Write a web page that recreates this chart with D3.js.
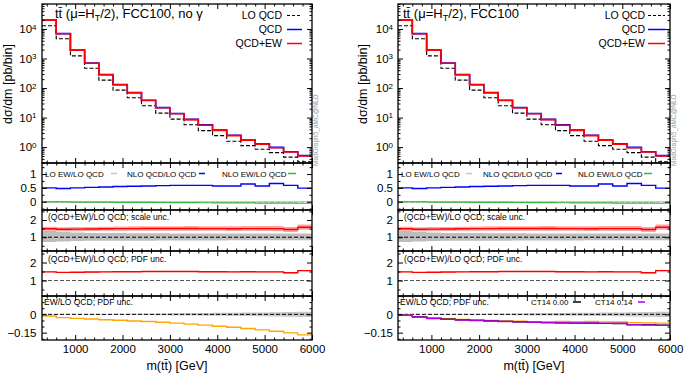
<!DOCTYPE html>
<html><head><meta charset="utf-8">
<script src="https://cdn.jsdelivr.net/npm/d3@7"></script>
<style>
body{margin:0;background:#fff}
text{font-family:"Liberation Sans",Arial,Helvetica,sans-serif}
</style>
</head><body>
<svg id="chart" width="685" height="374"></svg>
<script>
// bin edges in m(tt) [GeV]
var massEdges=[300,600,900,1200,1500,1800,2100,2400,2700,3000,3300,3600,3900,4200,4500,4800,5100,5400,5700,6000];

// main panel, pb/bin
var sigmaLO=[12900,4680,1230,468,186,85,46.8,25.1,14.1,8.9,5.75,3.63,2.45,1.58,1.12,0.85,0.65,0.46,0.32];
var sigmaQCD=[20050,6950,1915,698,285,130.5,70,38.6,21.8,13.8,8.7,5.65,3.8,2.52,1.75,1.30,0.98,0.70,0.515];
var sigmaQCDEW=[19950,6920,1905,692,282,129,69,38,21.4,13.5,8.5,5.5,3.7,2.45,1.7,1.26,0.95,0.68,0.50];

// ratio panel
var kLOEW=[0.003,0.003,0.004,0.004,0.004,0.005,0.005,0.005,0.005,0.006,0.006,0.006,0.006,0.006,0.007,0.007,0.007,0.007,0.007];
var kQCD=[0.50,0.48,0.50,0.52,0.53,0.55,0.56,0.57,0.58,0.59,0.59,0.59,0.57,0.57,0.64,0.57,0.66,0.59,0.49];
var kEW=[-0.004,-0.008,-0.012,-0.015,-0.018,-0.021,-0.024,-0.027,-0.029,-0.032,-0.035,-0.037,-0.040,-0.043,-0.045,-0.048,-0.051,-0.053,-0.056];

// scale unc panel
var scaleC=[1.49,1.46,1.47,1.48,1.49,1.50,1.50,1.51,1.51,1.51,1.51,1.50,1.50,1.49,1.50,1.50,1.50,1.45,1.58];
var scaleLo=[1.37,1.34,1.35,1.36,1.37,1.38,1.38,1.38,1.38,1.38,1.38,1.37,1.37,1.36,1.37,1.36,1.36,1.31,1.43];
var scaleHi=[1.61,1.58,1.59,1.60,1.61,1.62,1.63,1.64,1.64,1.64,1.65,1.64,1.64,1.63,1.65,1.65,1.65,1.60,1.74];
var loScaleLo=[0.72,0.75,0.78,0.79,0.80,0.80,0.80,0.80,0.81,0.81,0.81,0.81,0.81,0.82,0.82,0.82,0.82,0.82,0.82];
var loScaleHi=[1.36,1.32,1.27,1.25,1.24,1.24,1.23,1.23,1.23,1.22,1.22,1.22,1.22,1.22,1.21,1.21,1.21,1.21,1.21];

// pdf unc panel
var pdfC=[1.48,1.45,1.46,1.47,1.48,1.49,1.49,1.50,1.50,1.50,1.50,1.49,1.49,1.48,1.49,1.48,1.48,1.43,1.55];
var pdfLo=[1.46,1.43,1.44,1.45,1.46,1.47,1.47,1.48,1.48,1.47,1.47,1.46,1.46,1.45,1.46,1.45,1.45,1.40,1.52];
var pdfHi=[1.50,1.47,1.48,1.49,1.50,1.51,1.51,1.52,1.52,1.53,1.53,1.52,1.52,1.51,1.52,1.51,1.51,1.46,1.58];

// EW/LO QCD panel
var ewLO_noA=[-0.014,-0.027,-0.033,-0.038,-0.044,-0.049,-0.054,-0.059,-0.065,-0.072,-0.080,-0.088,-0.097,-0.106,-0.116,-0.127,-0.139,-0.152,-0.168];
var ewLO_A=[-0.008,-0.020,-0.030,-0.036,-0.041,-0.046,-0.050,-0.054,-0.057,-0.060,-0.062,-0.058,-0.060,-0.058,-0.062,-0.063,-0.068,-0.070,-0.072];
var ct14_000=[-0.008,-0.021,-0.033,-0.040,-0.045,-0.050,-0.054,-0.058,-0.062,-0.065,-0.068,-0.070,-0.073,-0.072,-0.075,-0.076,-0.085,-0.084,-0.088];
var ct14_014=[-0.008,-0.021,-0.034,-0.041,-0.046,-0.051,-0.055,-0.059,-0.062,-0.065,-0.067,-0.069,-0.070,-0.070,-0.072,-0.073,-0.085,-0.087,-0.090];
var pdfEwW=[0.002,0.002,0.002,0.003,0.003,0.003,0.004,0.005,0.007,0.009,0.010,0.011,0.012,0.013,0.014,0.016,0.018,0.020,0.022];

var svg=d3.select("#chart");
var P={main:[4,163],r1:[163,210],r2:[210,251],r3:[251,296],r4:[296,340]};

function pts(v){ return massEdges.map(function(m,i){ return [m, v[Math.min(i,v.length-1)]]; }); }
function bandPts(lo,hi){ return massEdges.map(function(m,i){ var j=Math.min(i,lo.length-1); return [m,lo[j],hi[j]]; }); }

var clipN=0;
function panel(side,key,yScale,draw){
  var y0=P[key][0], y1=P[key][1];
  var id="clip"+(clipN++);
  svg.append("clipPath").attr("id",id).append("rect")
    .attr("x",side.x0).attr("y",y0).attr("width",side.x1-side.x0).attr("height",y1-y0);
  var g=svg.append("g").attr("clip-path","url(#"+id+")");
  draw(g);
  // ticks
  var minX=[],majX=[1000,2000,3000,4000,5000,6000];
  for(var m=400;m<6000;m+=200){ if(m%1000) minX.push(m); }
  var len=side.x1-side.x0;
  [[d3.axisBottom,y1],[d3.axisTop,y0]].forEach(function(a){
    [[minX,2.5],[majX,5]].forEach(function(t){
      svg.append("g").attr("transform","translate(0,"+a[1]+")")
        .call(a[0](side.x).tickValues(t[0]).tickSize(-t[1]).tickFormat(""))
        .call(function(s){ s.select(".domain").remove(); s.selectAll("line").attr("stroke","#000"); });
    });
  });
  [[d3.axisLeft,side.x0],[d3.axisRight,side.x1]].forEach(function(a){
    [[yScale.minor,2.5],[yScale.major,5]].forEach(function(t){
      svg.append("g").attr("transform","translate("+a[1]+",0)")
        .call(a[0](yScale.s).tickValues(t[0]).tickSize(-t[1]).tickFormat(""))
        .call(function(s){ s.select(".domain").remove(); s.selectAll("line").attr("stroke","#000"); });
    });
  });
  // labels
  var lab=svg.append("g").attr("transform","translate("+side.x0+",0)")
    .call(d3.axisLeft(yScale.s).tickValues(yScale.labels).tickSize(0).tickPadding(side.pad).tickFormat(yScale.fmt||d3.format("~g")));
  lab.select(".domain").remove();
  lab.selectAll("text").attr("font-size","11.5px").attr("fill","#000").attr("font-family",null);
  if(yScale.log){
    lab.selectAll("text").each(function(d){
      var t=d3.select(this); t.text(null);
      t.append("tspan").text("10");
      t.append("tspan").attr("dy","-0.45em").attr("font-size","8px").text(Math.round(Math.log10(d)));
    });
  }
  svg.append("rect").attr("x",side.x0).attr("y",y0).attr("width",len).attr("height",y1-y0)
    .attr("fill","none").attr("stroke","#000").attr("stroke-width",1.3);
}

function stepLine(g,x,y,v,color,w,dash){
  var ln=d3.line().x(function(d){return x(d[0]);}).y(function(d){return y(d[1]);}).curve(d3.curveStepAfter);
  g.append("path").attr("d",ln(pts(v))).attr("fill","none").attr("stroke",color)
    .attr("stroke-width",w).attr("stroke-dasharray",dash||null);
}
function stepBand(g,x,y,lo,hi,color,op){
  var ar=d3.area().x(function(d){return x(d[0]);}).y0(function(d){return y(d[1]);}).y1(function(d){return y(d[2]);}).curve(d3.curveStepAfter);
  g.append("path").attr("d",ar(bandPts(lo,hi))).attr("fill",color).attr("opacity",op||1);
}
function hline(g,x,y,v,color){
  g.append("line").attr("x1",x(300)).attr("x2",x(6000)).attr("y1",y(v)).attr("y2",y(v))
    .attr("stroke",color).attr("stroke-width",1).attr("stroke-dasharray","4,2");
}
function txt(x,y,s,size,anchor){
  return svg.append("text").attr("x",x).attr("y",y).attr("font-size",size).attr("text-anchor",anchor||"start").text(s);
}
function sample(x1,x2,y,color,dash,w){
  svg.append("line").attr("x1",x1).attr("x2",x2).attr("y1",y).attr("y2",y)
    .attr("stroke",color).attr("stroke-width",w||1.5).attr("stroke-dasharray",dash||null);
}

function drawSide(side){
  var x=d3.scaleLinear().domain([300,6000]).range([side.x0,side.x1]);
  side.x=x;

  // main
  var ym=d3.scaleLog().domain([0.29,7e4]).range([P.main[1],P.main[0]]);
  var minors=[];
  [0.1,1,10,100,1000,10000].forEach(function(d){ for(var k=2;k<=9;k++){ var v=k*d; if(v>=0.29&&v<=7e4) minors.push(v);} });
  panel(side,"main",{s:ym,major:[1,10,100,1000,10000],minor:minors,labels:[1,10,100,1000,10000],log:true},function(g){
    stepLine(g,x,ym,sigmaLO,"#000",1.1,"4,2");
    stepLine(g,x,ym,sigmaQCD,"#0000ff",1.6);
    stepLine(g,x,ym,sigmaQCDEW,"#ff0000",1.6);
  });

  // ratio
  var y1=d3.scaleLinear().domain([-0.3,1.4]).range([P.r1[1],P.r1[0]]);
  panel(side,"r1",{s:y1,major:[0,0.5,1],minor:[-0.25,0.25,0.75,1.25],labels:[0,0.5,1]},function(g){
    hline(g,x,y1,0,"#000");
    stepLine(g,x,y1,kLOEW,"#c8c8c8",1.2);
    stepLine(g,x,y1,kEW,"#3cb43c",1.2);
    stepLine(g,x,y1,kQCD,"#0000ff",1.4);
  });

  // scale unc
  var y2=d3.scaleLinear().domain([0.2,2.58]).range([P.r2[1],P.r2[0]]);
  panel(side,"r2",{s:y2,major:[1,2],minor:[0.5,1.5,2.5],labels:[1,2]},function(g){
    stepBand(g,x,y2,loScaleLo,loScaleHi,"#bdbdbd");
    hline(g,x,y2,1,"#000");
    stepBand(g,x,y2,scaleLo,scaleHi,"#ffa4a4",1);
    stepLine(g,x,y2,scaleC,"#ff0000",1.4);
  });

  // pdf unc
  var y3=d3.scaleLinear().domain([0.14,2.64]).range([P.r3[1],P.r3[0]]);
  panel(side,"r3",{s:y3,major:[1,2],minor:[0.5,1.5,2.5],labels:[1,2]},function(g){
    hline(g,x,y3,1,"#555");
    stepBand(g,x,y3,pdfLo,pdfHi,"#ff9c9c",1);
    stepLine(g,x,y3,pdfC,"#ff0000",1.4);
  });

  // EW/LO QCD pdf unc
  var y4=d3.scaleLinear().domain([-0.21,0.15]).range([P.r4[1],P.r4[0]]);
  panel(side,"r4",{s:y4,major:[0,-0.15,0.15],minor:[-0.2,-0.1,-0.05,0.05,0.1],labels:[0,-0.15]},function(g){
    stepBand(g,x,y4,pdfEwW.map(function(w){return -w;}),pdfEwW,"#c8c8c8");
    hline(g,x,y4,0,"#000");
    stepLine(g,x,y4,side.ew,"#ffa500",1.4);
    if(side.ct14){
      stepLine(g,x,y4,ct14_000,"#000",1.2);
      stepLine(g,x,y4,ct14_014,"#b000e0",1.4);
    }
  });

  // x labels
  var xl=svg.append("g").attr("transform","translate(0,"+P.r4[1]+")")
    .call(d3.axisBottom(x).tickValues([1000,2000,3000,4000,5000,6000]).tickSize(0).tickFormat(d3.format("d")));
  xl.select(".domain").remove();
  xl.selectAll("text").attr("y",13).attr("dy",null).attr("font-size","11.5px").attr("fill","#000").attr("font-family",null);

  // axis titles
  txt((side.x0+side.x1)/2,370,"m(tt\u0304) [GeV]","12.5px","middle");
  svg.append("text").attr("transform","translate("+side.ytX+",84) rotate(-90)")
    .attr("text-anchor","middle").attr("font-size","12.5px").text("d\u03c3/dm [pb/bin]");

  // title
  var t=txt(side.titleX,18,"tt\u0304 (\u03bc=H","13px");
  t.append("tspan").attr("dy",2.5).attr("font-size","9px").text("T");
  t.append("tspan").attr("dy",-2.5).text("/2), FCC100"+side.titleExtra);

  // main legend
  var L=side.legR, S=side.legS;
  txt(L,19,"LO QCD","10.5px","end"); sample(S[0],S[1],15.5,"#000","3,2",1.2);
  txt(L,33,"QCD","10.5px","end"); sample(S[0],S[1],29.5,"#0000ff");
  txt(L,47,"QCD+EW","10.5px","end"); sample(S[0],S[1],43.5,"#ff0000");

  // ratio legend
  var R=side.rl;
  txt(R[0],176.5,"LO EW/LO QCD","8px"); sample(R[1],R[1]+6,173.5,"#c8c8c8");
  txt(R[2],176.5,"NLO QCD/LO QCD","8px"); sample(R[3],R[3]+6,173.5,"#0000ff");
  txt(R[4],176.5,"NLO EW/LO QCD","8px"); sample(R[5],R[5]+8,173.5,"#3cb43c");

  txt(side.x0+6,219.5,"(QCD+EW)/LO QCD; scale unc.","8.5px");
  txt(side.x0+6,262,"(QCD+EW)/LO QCD; PDF unc.","8.5px");
  txt(side.x0+2,305,"EW/LO QCD; PDF unc.","8.5px");
  if(side.ct14){
    txt(531,305,"CT14 0.00","8px"); sample(573,581,302,"#000");
    txt(595,305,"CT14 0.14","8px"); sample(638,645,302,"#b000e0");
  }

  // generator mark
  svg.append("text").attr("transform","translate("+(side.x1+5.5)+",166) rotate(-90)")
    .attr("font-size","6.5px").attr("fill","#9a9a9a").text("MadGraph5_aMC@NLO");
}

drawSide({x0:42,x1:312,pad:5.5,ytX:12,titleX:55,titleExtra:", no \u03b3",legR:282,legS:[287,302],
  rl:[45,111,127,199,222,288],ew:ewLO_noA,ct14:false});
drawSide({x0:398,x1:670,pad:5,ytX:367,titleX:403,titleExtra:"",legR:645,legS:[648,665],
  rl:[401,466,483,556,578,644],ew:ewLO_A,ct14:true});
</script>
</body></html>
